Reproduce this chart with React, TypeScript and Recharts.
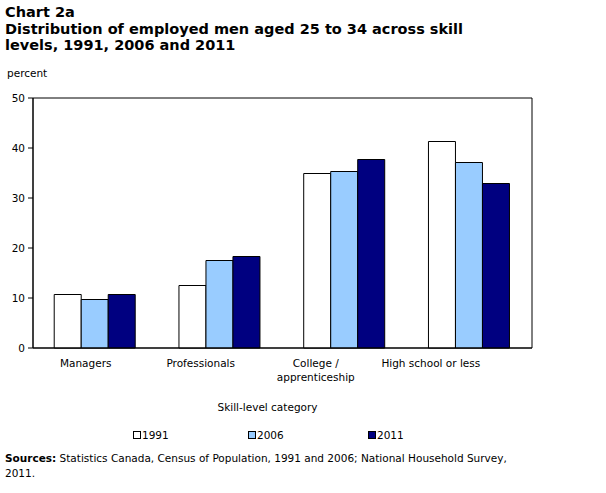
import React from "react";
import { BarChart, Bar, XAxis, YAxis, Label, ReferenceArea } from "recharts";

const categories = ["Managers", "Professionals", "College /\napprenticeship", "High school or less"];
const seriesNames = ["1991", "2006", "2011"];
const values1991 = [10.7, 12.5, 34.9, 41.3];
const values2006 = [9.7, 17.5, 35.3, 37.1];
const values2011 = [10.7, 18.3, 37.7, 32.9];
const yTicks = [0, 10, 20, 30, 40, 50];
const colors = ["#ffffff", "#99ccff", "#000080"];

const data = categories.map((c, i) => ({
  category: c,
  "1991": values1991[i],
  "2006": values2006[i],
  "2011": values2011[i],
}));

const FONT = "'DejaVu Sans', Verdana, sans-serif";

const XTick = (props: any) => {
  const { x, y, payload, index } = props;
  const lines = String(payload.value).split("\n");
  const shift = -9.7 * (index + 1);
  return (
    <text x={x + shift} y={y + 4} textAnchor="middle" fontFamily={FONT} fontSize={10.5} fill="#000">
      {lines.map((l, i) => (
        <tspan key={i} x={x + shift} dy={i === 0 ? "0.71em" : 14}>
          {l}
        </tspan>
      ))}
    </text>
  );
};

const AxisTitle = (props: any) => {
  const { viewBox } = props;
  return (
    <text x={viewBox.x + viewBox.width / 2 - 15} y={viewBox.y + 59} textAnchor="middle" fontFamily={FONT} fontSize={10.5} fill="#000" dominantBaseline="central">
      Skill-level category
    </text>
  );
};

export default function App() {
  const legendX = [133, 248, 368];
  return (
    <div style={{ position: "absolute", left: 0, top: 0, width: 606, height: 493, background: "#fff", fontFamily: FONT, color: "#000" }}>
      <div style={{ position: "absolute", left: 5, top: 4, fontSize: 14.5, fontWeight: "bold", lineHeight: "16.5px" }}>
        Chart 2a
        <br />
        Distribution of employed men aged 25 to 34 across skill
        <br />
        levels, 1991, 2006 and 2011
      </div>
      <div style={{ position: "absolute", left: 7, top: 67, fontSize: 10.5 }}>percent</div>
      <div style={{ position: "absolute", left: 0, top: 0 }}>
        <BarChart
          width={606}
          height={420}
          data={data}
          margin={{ top: 98, right: 74, bottom: 2, left: 0 }}
          barCategoryGap="17%"
          barGap={0}
        >
          <XAxis
            dataKey="category"
            tick={<XTick />}
            tickLine={false}
            axisLine={{ stroke: "#000", strokeWidth: 1 }}
            height={70}
            interval={0}
          >
            <Label content={<AxisTitle />} />
          </XAxis>
          <YAxis
            domain={[0, 50]}
            ticks={yTicks}
            width={33}
            tickSize={5}
            tickLine={{ stroke: "#000" }}
            axisLine={{ stroke: "#000" }}
            tick={{ fontFamily: FONT, fontSize: 10.5, fill: "#000" }}
            tickMargin={3}
          />
          <ReferenceArea y1={0} y2={50} fill="none" fillOpacity={0} stroke="#000" strokeWidth={1} ifOverflow="visible" />
          {seriesNames.map((s, i) => (
            <Bar key={s} dataKey={s} fill={colors[i]} stroke="#000" strokeWidth={1} isAnimationActive={false} />
          ))}
        </BarChart>
      </div>
      {seriesNames.map((s, i) => (
        <div key={s} style={{ position: "absolute", left: legendX[i], top: 429, fontSize: 10.5, display: "flex", alignItems: "center" }}>
          <span style={{ display: "inline-block", width: 6, height: 6, border: "1px solid #000", background: colors[i], marginRight: 1 }} />
          <span>{s}</span>
        </div>
      ))}
      <div style={{ position: "absolute", left: 5, top: 451, fontSize: 10.5, lineHeight: "15px" }}>
        <b>Sources:</b> Statistics Canada, Census of Population, 1991 and 2006; National Household Survey,
        <br />
        2011.
      </div>
    </div>
  );
}
